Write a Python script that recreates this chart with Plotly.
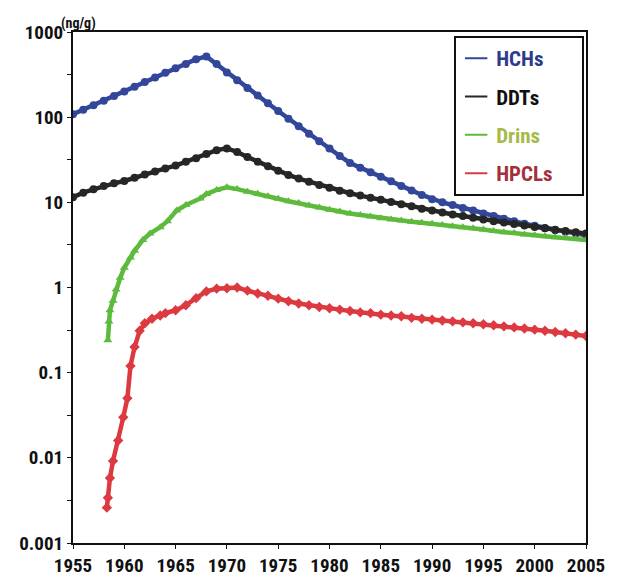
import plotly.graph_objects as go

years = list(range(1955, 2006))

hch = [108, 122, 138, 156, 177, 200, 228, 258, 293, 332,
       375, 420, 480, 515, 420, 335, 272, 220, 180, 146,
       118, 96, 78, 64, 52, 43, 35, 29, 25.5, 22.5,
       20, 17.7, 15.6, 13.8, 12.2, 10.9, 10, 9.3, 8.6, 8,
       7.4, 6.9, 6.4, 6.0, 5.6, 5.3, 5.0, 4.7, 4.5, 4.3,
       4.1]

ddt = [11.5, 13, 14.2, 15.5, 16.7, 17.8, 19.5, 21.2, 23, 25,
       27, 30, 33, 37, 41, 43, 39, 34, 30, 26.5,
       23.5, 21, 19, 17.5, 16, 14.8, 13.7, 12.8, 12, 11.3,
       10.7, 10.1, 9.5, 9.0, 8.4, 8.0, 7.6, 7.2, 6.9, 6.6,
       6.3, 6.0, 5.8, 5.55, 5.35, 5.15, 4.95, 4.75, 4.6, 4.45,
       4.3]

drins_x = [1958.4, 1958.5, 1958.6, 1958.9, 1959.2, 1959.6, 1960.0, 1960.6, 1961.0,
           1961.8, 1962.5, 1963.5, 1964.2, 1965.1, 1966, 1967.4, 1968, 1969, 1970,
           1971, 1972, 1973, 1974, 1975, 1976, 1977, 1978, 1979, 1980,
           1981, 1982, 1983, 1984, 1985, 1986, 1987, 1988, 1989, 1990,
           1991, 1992, 1993, 1994, 1995, 1996, 1997, 1998, 1999, 2000,
           2001, 2002, 2003, 2004, 2005]
drins = [0.24, 0.4, 0.54, 0.70, 0.95, 1.3, 1.7, 2.25, 2.7,
         3.6, 4.3, 5.1, 6.0, 8, 9.3, 11.1, 12.5, 14, 15,
         14.3, 13.3, 12.6, 11.8, 11, 10.3, 9.8, 9.2, 8.7, 8.2,
         7.8, 7.4, 7.1, 6.8, 6.5, 6.3, 6.1, 5.9, 5.75, 5.6,
         5.4, 5.25, 5.1, 4.95, 4.8, 4.6, 4.45, 4.35, 4.2, 4.1,
         4.0, 3.9, 3.8, 3.7, 3.6]

hpcl_x = [1958.3, 1958.4, 1958.6, 1958.9, 1959.4, 1959.9, 1960.3, 1960.6, 1961.0,
          1961.5, 1962.0, 1962.7, 1963.5, 1964, 1965, 1966, 1967, 1968, 1969,
          1970, 1971, 1972, 1973, 1974, 1975, 1976, 1977, 1978, 1979,
          1980, 1981, 1982, 1983, 1984, 1985, 1986, 1987, 1988, 1989,
          1990, 1991, 1992, 1993, 1994, 1995, 1996, 1997, 1998, 1999,
          2000, 2001, 2002, 2003, 2004, 2005]
hpcl = [0.0026, 0.0034, 0.0058, 0.0092, 0.016, 0.030, 0.05, 0.12, 0.2,
        0.31, 0.38, 0.43, 0.47, 0.5, 0.54, 0.62, 0.75, 0.9, 0.97,
        0.98, 1.0, 0.92, 0.85, 0.8, 0.74, 0.69, 0.65, 0.62, 0.59,
        0.57, 0.55, 0.53, 0.51, 0.5, 0.48, 0.47, 0.46, 0.44, 0.43,
        0.42, 0.41, 0.4, 0.39, 0.38, 0.37, 0.36, 0.35, 0.34, 0.33,
        0.32, 0.31, 0.3, 0.29, 0.28, 0.27]

names = ["HCHs", "DDTs", "Drins", "HPCLs"]
line_colors = ["#33479A", "#262626", "#5DBA3C", "#DC3A40"]
text_colors = ["#2E3A8C", "#111111", "#A6B94A", "#A3303A"]
symbols = ["circle", "circle", "triangle-up", "diamond"]

xs = [years, years, drins_x, hpcl_x]
ys = [hch, ddt, drins, hpcl]

FONT = "Liberation Sans Narrow, Arial Narrow, Roboto Condensed, sans-serif"
PAD = "\u00a0" * 5

fig = go.Figure()
for x, y, c, s in zip(xs, ys, line_colors, symbols):
    fig.add_trace(go.Scatter(
        x=x, y=y, mode="lines+markers", showlegend=False,
        line=dict(color=c, width=4.5),
        marker=dict(color=c, size=8, symbol=s),
    ))

for i, (n, c, tc) in enumerate(zip(names, line_colors, text_colors)):
    fig.add_trace(go.Scatter(
        x=[None], y=[None], mode="markers",
        name=f"<span style='color:{tc}'>{n}</span>{PAD}",
        legendgroup=f"g{i}",
        marker=dict(symbol="line-ew-open", size=16, color=c,
                    line=dict(color=c, width=2)),
    ))

ytick_vals = []
ytick_text = []
labels = ["0.001", "0.01", "0.1", "1", "10", "100", "1000"]
for k in range(-3, 4):
    ytick_vals.append(10 ** k)
    ytick_text.append(labels[k + 3])
    if k < 3:
        ytick_vals.append(10 ** (k + 0.5))
        ytick_text.append("")

fig.update_layout(
    width=626, height=576,
    margin=dict(l=73, r=40, t=32, b=33),
    paper_bgcolor="white", plot_bgcolor="white",
    font=dict(family=FONT, size=19, color="#111111", weight="bold"),
    legend=dict(
        x=0.743, y=0.992, xanchor="left", yanchor="top",
        bordercolor="#111111", borderwidth=2, bgcolor="white",
        font=dict(family=FONT, size=21, weight="bold"),
        tracegroupgap=8, traceorder="grouped",
    ),
    xaxis=dict(
        range=[1955, 2005], tickvals=list(range(1955, 2006, 5)),
        showgrid=False, zeroline=False, showline=True, mirror=True,
        linecolor="#111111", linewidth=2, ticks="outside", ticklen=4,
        tickcolor="#111111", tickfont=dict(size=19), automargin=False,
    ),
    yaxis=dict(
        type="log", range=[-3, 3], tickvals=ytick_vals, ticktext=ytick_text,
        showgrid=False, zeroline=False, showline=True, mirror=True,
        linecolor="#111111", linewidth=2, ticks="outside", ticklen=4,
        tickcolor="#111111", tickfont=dict(size=19), automargin=False,
    ),
    annotations=[dict(
        text="(ng/g)", xref="paper", yref="paper", x=0.0, y=1.0,
        xanchor="left", yanchor="bottom", showarrow=False,
        font=dict(family=FONT, size=14, weight="bold"), xshift=-14, yshift=-2,
    )],
)

fig.write_html("out.html")
